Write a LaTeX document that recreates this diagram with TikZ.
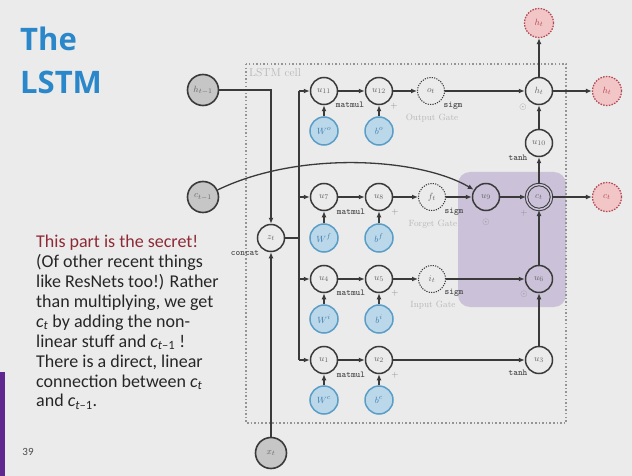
\documentclass[tikz,border=0pt]{standalone}
\usepackage{fontspec}
\newfontfamily\titlefont{Open Sans}
\newfontfamily\bodyfont{Carlito}
\usetikzlibrary{arrows.meta,calc}

\definecolor{bg}{HTML}{EBEBEB}
\definecolor{edge}{HTML}{3A3A3A}
\definecolor{blueFill}{HTML}{BBD8EA}
\definecolor{blueLine}{HTML}{5A9DC6}
\definecolor{blueText}{HTML}{3E7DAE}
\definecolor{pinkFill}{HTML}{F2C5C7}
\definecolor{pinkLine}{HTML}{B24A52}
\definecolor{grayFill}{HTML}{C6C6C6}
\definecolor{purpleBox}{HTML}{CBC2DA}
\definecolor{barPurple}{HTML}{60288E}
\definecolor{titleBlue}{HTML}{2A87C9}
\definecolor{secretRed}{HTML}{8E2A35}
\definecolor{bodyText}{HTML}{262626}

\newcommand{\cvar}[1]{{\itshape c}\textsubscript{\itshape #1}}
\newcommand{\cprevvar}{{\itshape c}\textsubscript{{\itshape t}\textendash1}}

\tikzset{
  op/.style={circle, draw=edge, line width=1.5pt, minimum size=27pt, inner sep=0pt,
    font=\fontsize{9.5}{10}\selectfont, text=black!60},
  gate/.style={op, line width=1pt, dash pattern=on 1.2pt off 1.2pt},
  acc/.style={op, line width=1pt, double=purpleBox, double distance=1.5pt, minimum size=25pt},
  param/.style={circle, draw=blueLine, fill=blueFill, line width=1.5pt, minimum size=28pt,
    inner sep=0pt, font=\fontsize{9.5}{10}\selectfont, text=blueText},
  inp/.style={circle, draw=edge, fill=grayFill, line width=1.6pt, minimum size=31pt,
    inner sep=0pt, font=\fontsize{9.5}{10}\selectfont, text=black!60},
  outp/.style={circle, draw=pinkLine, fill=pinkFill, line width=1.3pt,
    dash pattern=on 1.5pt off 1.3pt, minimum size=29pt, inner sep=0pt,
    font=\fontsize{9.5}{10}\selectfont, text=pinkLine},
  arr/.style={-{Latex[length=6pt,width=5pt]}, draw=edge, line width=1.3pt},
  wire/.style={draw=edge, line width=1.3pt},
  fn/.style={font=\ttfamily\bfseries\fontsize{9}{10}\selectfont, text=black!70, inner sep=0pt},
  opsym/.style={font=\fontsize{9}{10}\selectfont, text=black!45, inner sep=0pt},
  gatename/.style={font=\fontsize{9}{10}\selectfont, text=black!28, inner sep=0pt},
}

\begin{document}
\begin{tikzpicture}[x=1pt,y=-1pt]
  \fill[bg] (0,0) rectangle (632,476);
  \useasboundingbox (0,0) rectangle (632,476);

  % slide title, side note and page number
  \node[anchor=base west, inner sep=0pt, font=\titlefont\bfseries\fontsize{31}{36}\selectfont, text=titleBlue] (title1) at (20,51) {The};
  \node[anchor=base west, inner sep=0pt, font=\titlefont\bfseries\fontsize{31}{36}\selectfont, text=titleBlue] (title2) at (20,94) {LSTM};
  \fill[barPurple] (0,372) rectangle (5,476);
  \node[anchor=north west, inner sep=0pt, align=left, text=bodyText,
        font=\bodyfont\fontsize{18}{19.9}\selectfont] (note) at (36,235)
    {\textcolor{secretRed}{This part is the secret!}\\
     (Of other recent things\\
     like ResNets too!) Rather\\
     than multiplying, we get\\
     \cvar{t} by adding the non-\\
     linear stuff and \cprevvar\ !\\
     There is a direct, linear\\
     connection between \cvar{t}\\
     and \cprevvar.};
  \node[font=\bodyfont\fontsize{11}{12}\selectfont, text=black!70, inner sep=0pt] (page) at (28,452) {39};

  % highlighted cell-state path
  \fill[purpleBox, rounded corners=12pt] (458,172) rectangle (566,307);
  % cell boundary
  \draw[black!42, line width=1.5pt, dash pattern=on 1.5pt off 2.1pt] (246,64) rectangle (566,423);
  \node[anchor=west, inner sep=0pt, text=black!28, font=\fontsize{11.5}{12}\selectfont] (celllabel) at (249,73) {LSTM cell};

  % inputs
  \node[inp] (hprev) at (203,90) {$h_{t-1}$};
  \node[inp] (cprev) at (203,197) {$c_{t-1}$};
  \node[inp] (xt) at (271,453) {$x_t$};
  \node[op] (zt) at (271,238) {$z_t$};

  % output gate row
  \node[op] (u11) at (324,91) {$u_{11}$};
  \node[op] (u12) at (379,91) {$u_{12}$};
  \node[gate] (ot) at (431,91) {$o_t$};
  \node[op] (ht) at (539,91) {$h_t$};
  \node[param] (Wo) at (324,131) {$W^o$};
  \node[param] (bo) at (379,131) {$b^o$};

  % forget gate row
  \node[op] (u7) at (324,197) {$u_7$};
  \node[op] (u8) at (379,197) {$u_8$};
  \node[gate] (ft) at (432,197) {$f_t$};
  \node[op] (u9) at (486,197) {$u_9$};
  \node[acc] (ct) at (539,197) {$c_t$};
  \node[param] (Wf) at (324,238) {$W^f$};
  \node[param] (bf) at (379,238) {$b^f$};

  % input gate row
  \node[op] (u4) at (324,279) {$u_4$};
  \node[op] (u5) at (379,279) {$u_5$};
  \node[gate] (it) at (432,279) {$i_t$};
  \node[op] (u6) at (539,279) {$u_6$};
  \node[param] (Wi) at (324,319) {$W^i$};
  \node[param] (bi) at (379,319) {$b^i$};

  % candidate row
  \node[op] (u1) at (324,360) {$u_1$};
  \node[op] (u2) at (379,360) {$u_2$};
  \node[op] (u3) at (539,360) {$u_3$};
  \node[param] (Wc) at (324,400) {$W^c$};
  \node[param] (bc) at (379,400) {$b^c$};

  % outputs
  \node[op] (u10) at (539,143) {$u_{10}$};
  \node[outp] (hup) at (539,23) {$h_t$};
  \node[outp] (hout) at (607,91) {$h_t$};
  \node[outp] (cout) at (607,197) {$c_t$};

  % operation labels
  \node[fn] (mm1) at (350,105) {matmul};
  \node[opsym] (pl1) at (394,106) {$+$};
  \node[fn] (sg1) at (453,106) {sigm};
  \node[gatename] (gn1) at (432,118) {Output Gate};
  \node[opsym] (od1) at (523,107) {$\odot$};
  \node[fn] (th1) at (518,158) {tanh};

  \node[fn] (mm2) at (351,212) {matmul};
  \node[opsym] (pl2) at (395,212) {$+$};
  \node[fn] (sg2) at (454,212) {sigm};
  \node[gatename] (gn2) at (433,224) {Forget Gate};
  \node[opsym] (od2) at (486,222) {$\odot$};
  \node[opsym] (pl3) at (524,213) {$+$};

  \node[fn] (mm3) at (351,293) {matmul};
  \node[opsym] (pl4) at (395,293) {$+$};
  \node[fn] (sg3) at (454,293) {sigm};
  \node[gatename] (gn3) at (433,305) {Input Gate};
  \node[opsym] (od3) at (524,294) {$\odot$};

  \node[fn] (mm4) at (351,375) {matmul};
  \node[opsym] (pl5) at (395,375) {$+$};
  \node[fn] (th2) at (518,373) {tanh};
  \node[fn] (cc) at (245,253) {concat};

  % concatenation of h_{t-1} and x_t
  \draw[arr] (hprev) -| (zt);
  \draw[arr] (xt) -- (zt);
  \coordinate (btop) at (299,91);
  \coordinate (bbot) at (299,360);
  \draw[wire] (zt) -- (zt -| btop);
  \draw[wire] (btop) -- (bbot);
  \draw[arr] (btop) -- (u11);
  \draw[arr] (btop |- u7) -- (u7);
  \draw[arr] (btop |- u4) -- (u4);
  \draw[arr] (bbot) -- (u1);

  % output gate
  \draw[arr] (u11) -- (u12);
  \draw[arr] (u12) -- (ot);
  \draw[arr] (ot) -- (ht);
  \draw[arr] (Wo) -- (u11);
  \draw[arr] (bo) -- (u12);

  % forget gate
  \draw[arr] (u7) -- (u8);
  \draw[arr] (u8) -- (ft);
  \draw[arr] (ft) -- (u9);
  \draw[arr] (u9) -- (ct);
  \draw[arr] (Wf) -- (u7);
  \draw[arr] (bf) -- (u8);
  \draw[arr] (cprev) .. controls (300,150) and (420,158) .. (u9);

  % input gate
  \draw[arr] (u4) -- (u5);
  \draw[arr] (u5) -- (it);
  \draw[arr] (it) -- (u6);
  \draw[arr] (Wi) -- (u4);
  \draw[arr] (bi) -- (u5);

  % candidate values
  \draw[arr] (u1) -- (u2);
  \draw[arr] (u2) -- (u3);
  \draw[arr] (Wc) -- (u1);
  \draw[arr] (bc) -- (u2);

  % cell state and hidden state
  \draw[arr] (u3) -- (u6);
  \draw[arr] (u6) -- (ct);
  \draw[arr] (ct) -- (u10);
  \draw[arr] (u10) -- (ht);
  \draw[arr] (ht) -- (hup);
  \draw[arr] (ht) -- (hout);
  \draw[arr] (ct) -- (cout);
\end{tikzpicture}
\end{document}
